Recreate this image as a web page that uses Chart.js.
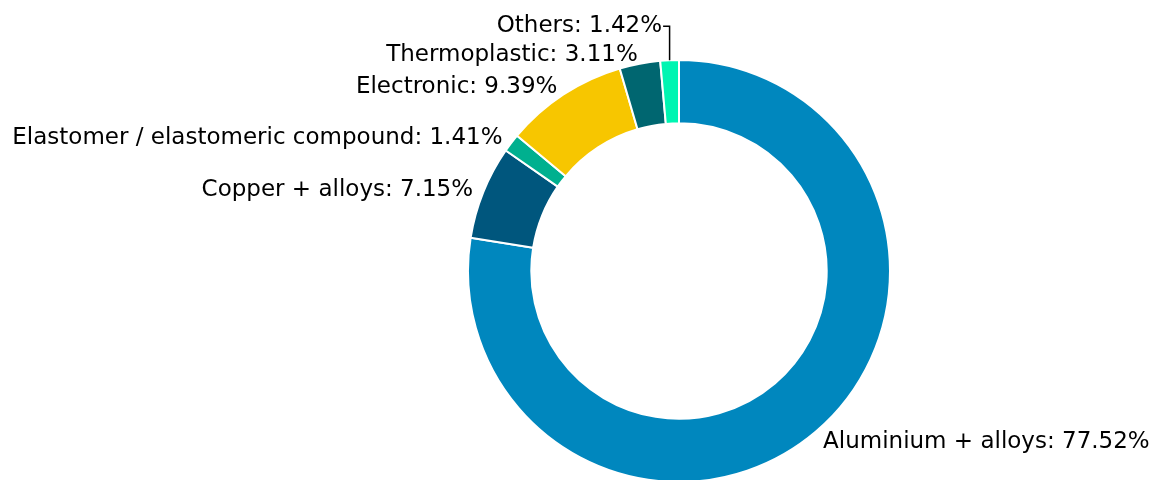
<!DOCTYPE html>
<html>
<head>
<meta charset="utf-8">
<script src="https://cdn.jsdelivr.net/npm/chart.js@4/dist/chart.umd.min.js"></script>
<style>
  html, body { margin: 0; padding: 0; background: #fff; overflow: hidden; }
  #wrap { width: 1158px; height: 480px; position: relative; }
</style>
</head>
<body>
<div id="wrap"><canvas id="materialChart"></canvas></div>
<script>
// 材料の構成比
const categories = [
  "Aluminium + alloys",
  "Copper + alloys",
  "Elastomer / elastomeric compound",
  "Electronic",
  "Thermoplastic",
  "Others",
];
const shares = [77.52, 7.15, 1.41, 9.39, 3.11, 1.42];
const sliceColors = ["#0087be", "#00567d", "#00b08f", "#f7c600", "#006670", "#00f5b2"];

// ラベルの縦方向のずらし (Others だけ引き出し線付きで上へ)
const labelLift = [0, 0, 0, 0, 0, 25];

const labelFont = "23px 'DejaVu Sans'";

// 円の外側にラベルを描くプラグイン
const outsideLabels = {
  id: "outsideLabels",
  afterDatasetsDraw(chart) {
    const ctx = chart.ctx;
    const arcs = chart.getDatasetMeta(0).data;
    ctx.save();
    ctx.font = labelFont;
    ctx.fillStyle = "#000";
    ctx.strokeStyle = "#000";
    ctx.lineWidth = 1.5;
    ctx.textBaseline = "middle";
    arcs.forEach(function (arc, i) {
      const mid = (arc.startAngle + arc.endAngle) / 2;
      const dist = arc.outerRadius * 1.052;
      let x = arc.x + Math.cos(mid) * dist;
      let y = arc.y + Math.sin(mid) * dist + 2;
      const text = categories[i] + ": " + shares[i].toFixed(2) + "%";
      const right = Math.cos(mid) >= 0;
      ctx.textAlign = right ? "left" : "right";
      if (labelLift[i]) {
        const ex = arc.x + Math.cos(mid) * arc.outerRadius;
        const ey = arc.y + Math.sin(mid) * arc.outerRadius;
        y -= labelLift[i];
        const tx = x - 6;
        ctx.beginPath();
        ctx.moveTo(ex, ey);
        ctx.lineTo(ex, y);
        ctx.lineTo(tx, y);
        ctx.stroke();
        x = tx - 1;
      }
      ctx.fillText(text, x, y);
    });
    ctx.restore();
  },
};

new Chart(document.getElementById("materialChart"), {
  type: "doughnut",
  data: {
    labels: categories,
    datasets: [
      {
        data: shares,
        backgroundColor: sliceColors,
        borderColor: "#ffffff",
        borderWidth: 2,
      },
    ],
  },
  options: {
    responsive: true,
    maintainAspectRatio: false,
    animation: false,
    radius: 211,
    cutout: "70%",
    layout: { padding: { top: 62, bottom: 0, left: 468, right: 268 } },
    plugins: {
      legend: { display: false },
      tooltip: { enabled: false },
    },
  },
  plugins: [outsideLabels],
});
</script>
</body>
</html>
